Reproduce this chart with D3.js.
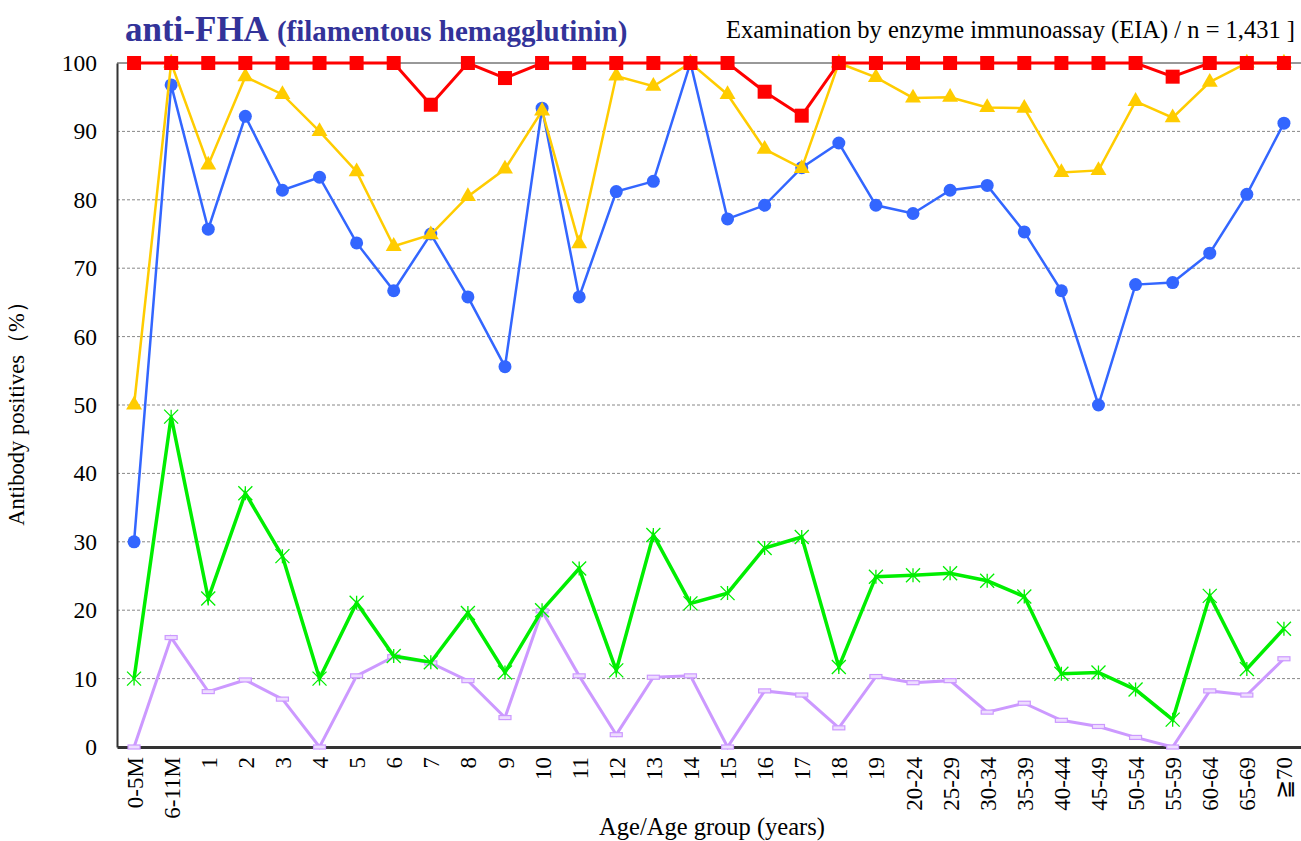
<!DOCTYPE html>
<html>
<head>
<meta charset="utf-8">
<script src="https://cdn.jsdelivr.net/npm/d3@7"></script>
<style>
  html, body { margin: 0; padding: 0; background: #fff; }
  svg { display: block; }
  text { font-family: "Liberation Serif", "Times New Roman", serif; }
</style>
</head>
<body>
<svg id="chart" width="1301" height="841"></svg>
<script>
const categories = ["0-5M","6-11M","1","2","3","4","5","6","7","8","9","10","11","12","13","14","15","16","17","18","19","20-24","25-29","30-34","35-39","40-44","45-49","50-54","55-59","60-64","65-69","≧70"];

const redValues    = [100,100,100,100,100,100,100,100,93.9,100,97.8,100,100,100,100,100,100,95.8,92.3,100,100,100,100,100,100,100,100,100,98.0,100,100,100];
const yellowValues = [50.0,100,85.1,98.0,95.4,90.0,84.1,73.2,74.9,80.5,84.5,93.0,73.6,98.1,96.6,100,95.4,87.4,84.6,100,97.9,94.9,95.0,93.5,93.4,84.0,84.3,94.4,92.0,97.2,100,100];
const blueValues   = [30.0,96.8,75.7,92.2,81.4,83.3,73.7,66.7,75.0,65.8,55.6,93.4,65.8,81.2,82.7,100,77.2,79.2,84.7,88.3,79.2,78.0,81.4,82.1,75.3,66.7,50.0,67.6,67.9,72.2,80.8,91.2];
const greenValues  = [10.0,48.3,21.7,37.1,27.9,10.0,21.1,13.3,12.4,19.6,10.9,20.0,26.1,11.2,31.0,21.0,22.5,29.1,30.7,11.7,24.9,25.1,25.4,24.3,22.0,10.7,10.9,8.4,4.0,22.1,11.4,17.3];
const purpleValues = [0,16.0,8.1,9.8,7.0,0,10.4,13.2,12.3,9.7,4.3,19.9,10.4,1.8,10.2,10.4,0,8.2,7.6,2.8,10.3,9.4,9.7,5.1,6.4,3.9,3.0,1.4,0,8.2,7.6,12.9];

const yTicks = [0,10,20,30,40,50,60,70,80,90,100];

const titleMain = "anti-FHA";
const titleSub = "(filamentous hemagglutinin)";
const subtitle = "Examination by enzyme immunoassay (EIA) / n = 1,431 ]";
const yTitle = "Antibody positives（%）";
const xTitle = "Age/Age group (years)";

(function () {
const svg = d3.select("#chart");
const pL = 117, pR = 1301, pT = 63, pB = 747;
const serif = '"Liberation Serif", "Times New Roman", serif';

const x = d3.scalePoint().domain(categories).range([pL, pR]).padding(0.46);
const y = d3.scaleLinear().domain([0, 100]).range([pB, pT]);

// gridlines
svg.append("g").selectAll("line").data(yTicks.filter(d => d > 0 && d < 100)).join("line")
  .attr("x1", pL).attr("x2", pR)
  .attr("y1", d => y(d)).attr("y2", d => y(d))
  .attr("stroke", "#888").attr("stroke-width", 1).attr("stroke-dasharray", "3,2");

// top frame line
svg.append("line").attr("x1", pL).attr("x2", pR).attr("y1", y(100)).attr("y2", y(100))
  .attr("stroke", "#333").attr("stroke-width", 1);

// y axis
const yAxis = d3.axisLeft(y).tickValues(yTicks).tickSize(0).tickPadding(20);
const gy = svg.append("g").attr("transform", `translate(${pL},0)`).call(yAxis);
gy.attr("font-family", null);
gy.select(".domain").attr("stroke", "#333").attr("stroke-width", 2);
gy.selectAll("text").attr("font-size", 23.5).attr("fill", "#000")
  .style("font-family", serif);

// x axis
const xAxis = d3.axisBottom(x).tickSize(0).tickPadding(0);
const gx = svg.append("g").attr("transform", `translate(0,${pB})`).call(xAxis);
gx.attr("font-family", null);
gx.select(".domain").attr("stroke", "#333").attr("stroke-width", 3);
gx.selectAll("text")
  .attr("font-size", 23).attr("fill", "#000")
  .style("font-family", serif)
  .attr("text-anchor", "end")
  .attr("dy", "0.35em")
  .attr("transform", "translate(0,10) rotate(-90)")
  .attr("x", 0).attr("y", 0);

// titles
const t = svg.append("text").attr("x", 125).attr("y", 41).attr("fill", "#333399")
  .attr("font-weight", "bold").style("font-family", serif);
t.append("tspan").attr("font-size", 35).text(titleMain);
t.append("tspan").attr("font-size", 29).attr("dx", 8).text(titleSub);

svg.append("text").attr("x", 1295).attr("y", 38).attr("text-anchor", "end")
  .style("font-family", serif)
  .attr("font-size", 24.5).attr("fill", "#000").text(subtitle);

svg.append("text").attr("transform", `translate(24,408) rotate(-90)`).attr("text-anchor", "middle")
  .style("font-family", serif)
  .attr("font-size", 22.5).attr("fill", "#000").text(yTitle);

svg.append("text").attr("x", 712).attr("y", 835).attr("text-anchor", "middle")
  .style("font-family", serif)
  .attr("font-size", 24.5).attr("fill", "#000").text(xTitle);

const line = d3.line().x((d, i) => x(categories[i])).y(d => y(d));

function drawSeries(values, color, width, markerFn) {
  const g = svg.append("g");
  g.append("path").datum(values).attr("d", line).attr("fill", "none")
    .attr("stroke", color).attr("stroke-width", width).attr("stroke-linejoin", "miter");
  const m = g.selectAll("g.m").data(values).join("g")
    .attr("transform", (d, i) => `translate(${x(categories[i])},${y(d)})`);
  markerFn(m);
}

drawSeries(purpleValues, "#cc99ff", 3, m => {
  m.append("rect").attr("x", -6).attr("y", -2).attr("width", 12).attr("height", 4)
    .attr("fill", "#eeddff").attr("stroke", "#cc99ff").attr("stroke-width", 1.2);
});

drawSeries(greenValues, "#00ee00", 3.5, m => {
  const s = 7;
  m.append("path").attr("d", `M0,${-s}L0,${s}M${-s},${-s}L${s},${s}M${-s},${s}L${s},${-s}`)
    .attr("stroke", "#00ee00").attr("stroke-width", 1.3).attr("fill", "none");
});

drawSeries(blueValues, "#3366ff", 2.5, m => {
  m.append("circle").attr("r", 6.5).attr("fill", "#3366ff");
});

drawSeries(yellowValues, "#ffcc00", 2.5, m => {
  m.append("path").attr("d", d3.symbol(d3.symbolTriangle, 110)()).attr("fill", "#ffcc00");
});

drawSeries(redValues, "#ff0000", 3, m => {
  m.append("rect").attr("x", -7).attr("y", -7).attr("width", 14).attr("height", 14).attr("fill", "#ff0000");
});
})();
</script>
</body>
</html>
